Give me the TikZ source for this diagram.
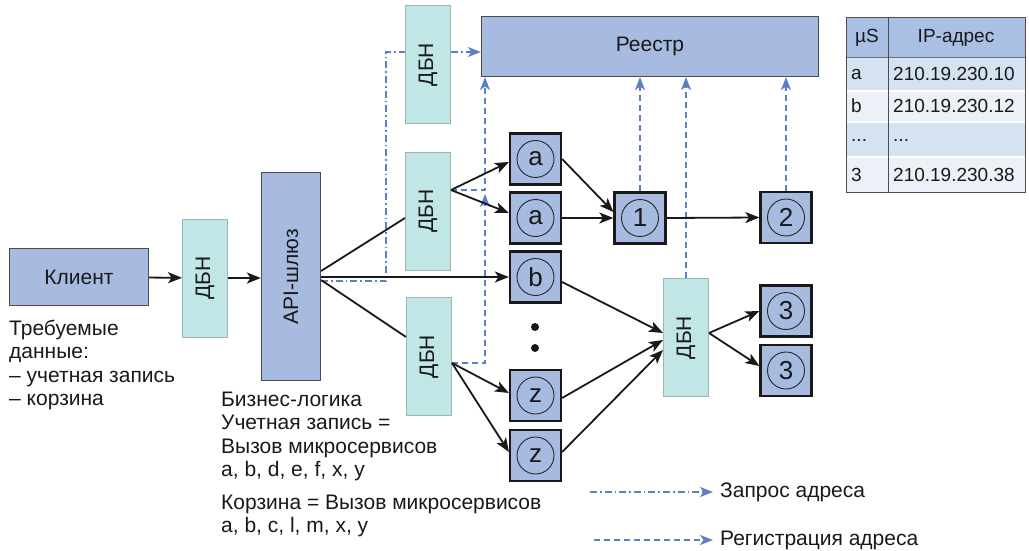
\documentclass[tikz,border=0pt]{standalone}
\usepackage{fontspec}
\setmainfont{Liberation Sans}
\usetikzlibrary{arrows.meta,backgrounds,calc}
\definecolor{boxblue}{HTML}{A7BBE0}
\definecolor{lbcyan}{HTML}{C0E6E6}
\definecolor{lbborder}{HTML}{A0B4B4}
\definecolor{dashblue}{HTML}{5B80C8}
\definecolor{hdrblue}{HTML}{A9BFE3}
\definecolor{rowdark}{HTML}{D5E2F2}
\definecolor{rowlight}{HTML}{ECF1F8}
\begin{document}
\begin{tikzpicture}[x=1pt,y=-1pt,
  every node/.style={font=\fontsize{21}{24}\selectfont, inner sep=0pt, text=black!90},
  bigbox/.style={draw=black!70, line width=1.2pt, fill=boxblue},
  lb/.style={draw=lbborder, line width=1pt, fill=lbcyan, minimum width=45pt, minimum height=118pt},
  ms/.style={draw=black!90, line width=2.2pt, fill=boxblue, minimum size=51pt, font=\fontsize{26}{26}\selectfont,
    path picture={\draw[line width=0.9pt, black!85] (path picture bounding box.center) circle (18.5pt);}},
  arr/.style={draw=black!90, line width=1.8pt, -{Stealth[length=14pt,width=11pt,inset=3.5pt]}},
  plain/.style={draw=black!90, line width=1.8pt},
  regline/.style={draw=dashblue, line width=1.6pt, dash pattern=on 6pt off 4pt},
  regarr/.style={regline, -{Stealth[length=13pt,width=10pt,inset=3.5pt]}},
  reqline/.style={draw=dashblue, line width=1.6pt, dash pattern=on 7pt off 3pt on 1.6pt off 3pt},
  reqarr/.style={reqline, -{Stealth[length=13pt,width=10pt,inset=3.5pt]}},
  txt/.style={align=left, font=\fontsize{21}{23.2}\selectfont},
  tbl/.style={font=\fontsize{19}{19}\selectfont}
]
\useasboundingbox (0,0) rectangle (1029,551);

% main nodes
\node[bigbox, minimum width=139pt, minimum height=57pt] (client) at (79,277) {Клиент};
\node[lb] (lb1) at (205,278) {\rotatebox{90}{ДБН}};
\node[bigbox, minimum width=59pt, minimum height=208pt] (api) at (291,276.5) {\rotatebox{90}{API-шлюз}};
\node[lb] (lbtop) at (428,64.5) {\rotatebox{90}{ДБН}};
\node[lb] (lbmid) at (428,211) {\rotatebox{90}{ДБН}};
\node[lb] (lbbot) at (429,356.5) {\rotatebox{90}{ДБН}};
\node[lb] (lbr) at (686,337.5) {\rotatebox{90}{ДБН}};
\node[bigbox, minimum width=337pt, minimum height=60pt] (reg) at (650,46.5) {Реестр};

\node[ms] (a1) at (535.5,159) {a};
\node[ms] (a2) at (535.5,218) {a};
\node[ms] (b) at (535.5,277) {b};
\node[ms] (z1) at (535.5,395.5) {z};
\node[ms] (z2) at (535.5,455.5) {z};
\node[ms] (one) at (640,218) {1};
\node[ms] (two) at (786,217.5) {2};
\node[ms] (three1) at (786,311) {3};
\node[ms] (three2) at (786,370.5) {3};

\fill[black!90] (535,327) circle (4pt) (535,348) circle (4pt);

% texts
\node[txt, anchor=north west] (req) at (9,320) {Требуемые\\данные:\\– учетная запись\\– корзина};
\node[txt, anchor=north west] (logic) at (221,392) {Бизнес-логика\\Учетная запись =\\Вызов микросервисов\\a, b, d, e, f, x, y};
\node[txt, anchor=north west] (cart) at (221,495) {Корзина = Вызов микросервисов\\a, b, c, l, m, x, y};

% address request (dash-dot) behind the top balancer
\coordinate (rqtop) at ([yshift=12.5pt]lbtop.east);
\begin{scope}[on background layer]
\draw[reqline] ([yshift=-4.5pt]api.east) -| ([xshift=-19pt,yshift=12.5pt]lbtop.west) -- ([yshift=12.5pt]lbtop.west);
\end{scope}
\draw[reqarr] (rqtop) -- (reg.west |- rqtop);

% registration (dashed)
\coordinate (rx) at (485,0);
\coordinate (midapex) at ([yshift=21pt]lbmid.east);
\coordinate (botapex) at ([yshift=-6.5pt]lbbot.east);
\draw[regarr] (midapex) -| (rx |- reg.south);
\draw[regarr] (botapex) -| ([yshift=-4pt]rx |- midapex);
\draw[regarr] (one.north) -- (one.north |- reg.south);
\draw[regarr] (two.north) -- (two.north |- reg.south);
\draw[regarr] (lbr.north) -- (lbr.north |- reg.south);

% solid connectors
\draw[arr] (client) -- (lb1);
\draw[arr] (lb1) -- (api.west |- lb1);
\draw[plain] ([yshift=5.5pt]api.east) -- ([yshift=-7pt]lbmid.west);
\draw[arr] (api.east |- b.west) -- (b.west);
\draw[plain] ([yshift=-3.5pt]api.east) -- ([yshift=19.5pt]lbbot.west);
\draw[arr] (midapex) -- ([yshift=-3pt]a1.west);
\draw[arr] (midapex) -- ([yshift=5pt]a2.west);
\draw[arr] (botapex) -- ([yshift=2.5pt]z1.west);
\draw[arr] (botapex) -- ([yshift=3.5pt]z2.west);
\draw[arr] (a1.east) -- ([yshift=6pt]one.west);
\draw[arr] (a2.east) -- (one.west);
\draw[arr] (one.east) -- (two.west);
\draw[arr] ([yshift=-5pt]b.east) -- ([yshift=4.5pt]lbr.west);
\draw[arr] ([yshift=-2.5pt]z1.east) -- ([yshift=-2.5pt]lbr.west);
\draw[arr] ([yshift=3.5pt]z2.east) -- ([yshift=-12.5pt]lbr.west);
\coordinate (rapex) at ([yshift=4.5pt]lbr.east);
\draw[arr] (rapex) -- (three1.west);
\draw[arr] (rapex) -- ([yshift=4.5pt]three2.west);

% table
\fill[hdrblue] (846,18) rectangle (1025,57);
\fill[rowdark] (846,57) rectangle (1025,91);
\fill[rowlight] (846,91) rectangle (1025,122);
\fill[rowdark] (846,122) rectangle (1025,157);
\fill[rowlight] (846,157) rectangle (1025,192);
\draw[white, line width=1.2pt] (846,91) -- (1025,91) (846,122) -- (1025,122) (846,157) -- (1025,157);
\draw[black!55, line width=0.6pt] (846,57) -- (1025,57);
\draw[black!70, line width=1pt] (846,18) rectangle (1025,192) (888,18) -- (888,192);
\node[tbl] (th1) at (867,38) {µS};
\node[tbl] (th2) at (956,38) {IP-адрес};
\node[tbl, anchor=west] (r1a) at (851,74) {a};
\node[tbl, anchor=west] (r1b) at (893,74) {210.19.230.10};
\node[tbl, anchor=west] (r2a) at (851,106) {b};
\node[tbl, anchor=west] (r2b) at (893,106) {210.19.230.12};
\node[tbl, anchor=west] (r3a) at (851,140) {...};
\node[tbl, anchor=west] (r3b) at (893,140) {...};
\node[tbl, anchor=west] (r4a) at (851,175) {3};
\node[tbl, anchor=west] (r4b) at (893,175) {210.19.230.38};

% legend
\node[anchor=west] (leg1) at (720,492) {Запрос адреса};
\node[anchor=west] (leg2) at (720,540) {Регистрация адреса};
\coordinate (l1s) at (590,492);
\coordinate (l2s) at (594,540);
\draw[reqarr] (l1s) -- ([xshift=-7pt]leg1.west);
\draw[regarr] (l2s) -- ([xshift=-7pt]leg2.west);
\end{tikzpicture}
\end{document}
